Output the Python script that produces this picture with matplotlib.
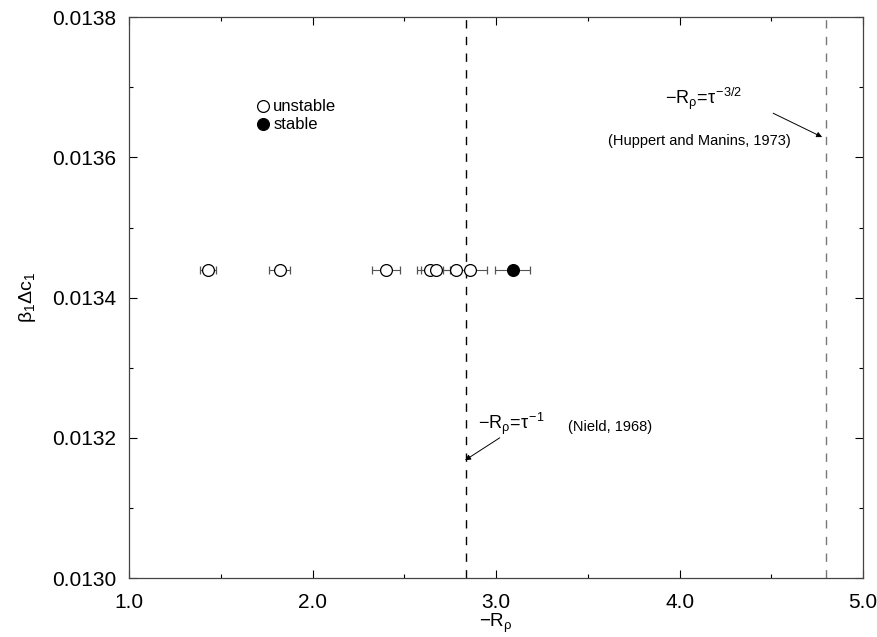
import matplotlib
matplotlib.use("Agg")
import matplotlib.pyplot as plt
from matplotlib.ticker import MultipleLocator, FormatStrFormatter

plt.rcParams['font.family'] = ['Liberation Sans', 'DejaVu Sans']
plt.rcParams['mathtext.fontset'] = 'custom'
plt.rcParams['mathtext.rm'] = 'Liberation Sans'
plt.rcParams['mathtext.it'] = 'Liberation Sans'

# data
unstable_x = [1.43, 1.82, 2.40, 2.64, 2.67, 2.78, 2.86]
unstable_xerr = [0.045, 0.056, 0.077, 0.07, 0.08, 0.09, 0.09]
unstable_y = [0.01344] * 7
stable_x = [3.09]
stable_xerr = [0.097]
stable_y = [0.01344]
nield_x = 2.835
huppert_x = 4.80

fig = plt.figure(figsize=(8.78, 6.37), dpi=100)
ax = fig.add_axes([0.147, 0.0926, 0.836, 0.8804])

ax.errorbar(unstable_x, unstable_y, xerr=unstable_xerr, fmt='o', mfc='white', mec='black',
            ms=8.5, mew=0.9, ecolor='#555555', elinewidth=0.8, capsize=3, capthick=0.8, zorder=3)
ax.errorbar(stable_x, stable_y, xerr=stable_xerr, fmt='o', mfc='black', mec='black',
            ms=8.5, mew=0.9, ecolor='#555555', elinewidth=0.8, capsize=3, capthick=0.8, zorder=3)

ax.axvline(nield_x, color='black', ls=(0, (6, 6)), lw=1.0)
ax.axvline(huppert_x, color='#777777', ls=(0, (6, 6)), lw=1.0)

ax.set_xlim(1.0, 5.0)
ax.set_ylim(0.0130, 0.0138)
ax.xaxis.set_major_locator(MultipleLocator(1.0))
ax.xaxis.set_minor_locator(MultipleLocator(0.5))
ax.yaxis.set_major_locator(MultipleLocator(0.0002))
ax.yaxis.set_minor_locator(MultipleLocator(0.0001))
ax.xaxis.set_major_formatter(FormatStrFormatter('%.1f'))
ax.yaxis.set_major_formatter(FormatStrFormatter('%.4f'))
ax.tick_params(which='both', direction='in', top=True, right=True, labelsize=15)
ax.tick_params(axis='x', which='major', length=6, width=0.8, pad=11)
ax.tick_params(axis='y', which='major', length=6, width=0.8, pad=9)
ax.tick_params(which='minor', length=3, width=0.8)
for s in ax.spines.values():
    s.set_linewidth(0.9)
    s.set_color('#444444')

ax.set_xlabel(r'$-\mathrm{R}_{\rho}$', fontsize=13.5, labelpad=0)
ax.set_ylabel(r'$\beta_1\Delta c_1$', fontsize=14, labelpad=10)

# legend-like labels
ax.plot([1.73], [0.013673], 'o', mfc='white', mec='black', ms=8.5, mew=0.9)
ax.plot([1.73], [0.013647], 'o', mfc='black', mec='black', ms=8.5, mew=0.9)
ax.text(1.785, 0.013673, 'unstable', fontsize=12, va='center', ha='left')
ax.text(1.785, 0.013647, 'stable', fontsize=12, va='center', ha='left')

ax.annotate('', xy=(2.831, 0.013168), xytext=(3.02, 0.013200),
            arrowprops=dict(arrowstyle='-|>', color='black', lw=0.7, mutation_scale=8,
                            shrinkA=0, shrinkB=0))
ax.text(2.90, 0.013220, r'$-\mathrm{R}_{\rho}\!=\!\tau^{-1}$', fontsize=13,
        va='center', ha='left')
ax.text(3.39, 0.013215, '(Nield, 1968)', fontsize=10.5, va='center', ha='left')

ax.annotate('', xy=(4.777, 0.013629), xytext=(4.51, 0.013663),
            arrowprops=dict(arrowstyle='-|>', color='black', lw=0.7, mutation_scale=8,
                            shrinkA=0, shrinkB=0))
ax.text(3.92, 0.013684, r'$-\mathrm{R}_{\rho}\!=\!\tau^{-3/2}$', fontsize=13,
        va='center', ha='left')
ax.text(3.61, 0.013623, '(Huppert and Manins, 1973)', fontsize=10.5, va='center', ha='left')

fig.savefig('out.png', dpi=100)
